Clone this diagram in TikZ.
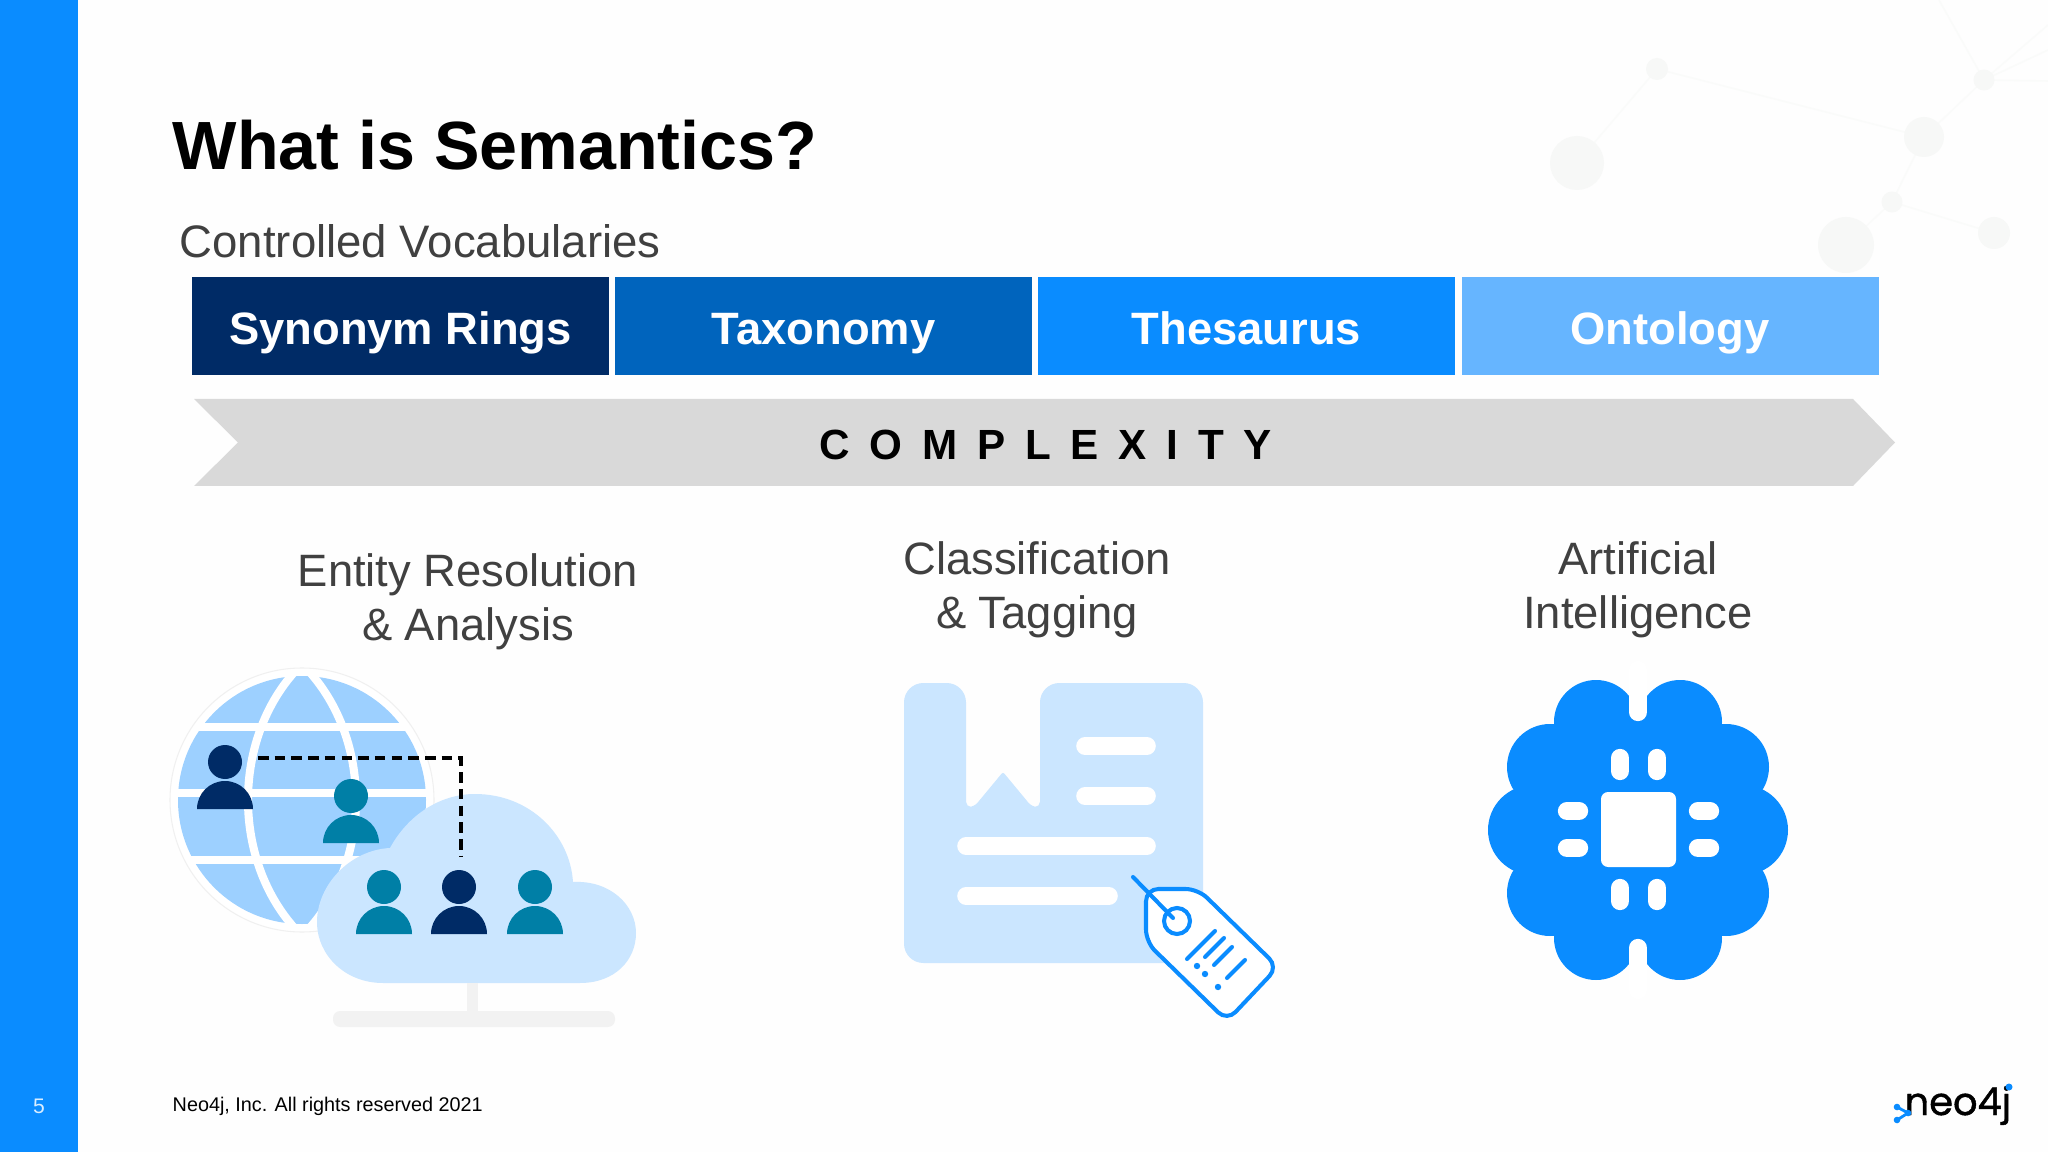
\documentclass[tikz,border=0pt]{standalone}
\usepackage{fontspec}
\usepackage{xcolor}
\setmainfont{Liberation Sans}
\newfontfamily\logofont[FakeBold=1.2]{Poppins}
\definecolor{neoblue}{HTML}{0A8CFF}
\definecolor{neonavy}{HTML}{002B66}
\definecolor{neomid}{HTML}{0064BD}
\definecolor{neosky}{HTML}{66B5FF}
\definecolor{neoteal}{HTML}{007FA6}
\definecolor{globeblue}{HTML}{9DD0FF}
\definecolor{paleblue}{HTML}{CBE6FF}
\definecolor{netgray}{HTML}{F7F8F7}
\definecolor{netline}{HTML}{FAFBFA}
\definecolor{labelgray}{HTML}{404040}
\tikzset{
    vocabbox/.style={minimum width=417*0.01cm, minimum height=98*0.01cm, inner sep=0pt,
        text height=12pt, text depth=1.2pt, text=white, font=\fontsize{12.9}{15}\selectfont\bfseries},
    uselabel/.style={align=center, text=labelgray, font=\fontsize{12.9}{15.4}\selectfont},
    netedge/.style={netline, line width=.45pt},
    pinline/.style={white, line width=5.2pt, line cap=round},
    whitebar/.style={white, line width=5pt, line cap=round},
    tagline/.style={neoblue, line width=1.15pt, line cap=round}
}
\begin{document}
\begin{tikzpicture}[x=0.01cm, y=-0.01cm]
    \useasboundingbox (0, 0) rectangle (2048, 1152);
    \fill[white!99.5!black] (0, 0) rectangle (2048, 1152);

    \foreach \a/\b/\c/\d in {1577/163/1657/69, 1657/69/1924/137, 1924/137/1984/80, 1924/137/1892/202,
        1892/202/1846/245, 1892/202/1994/233, 1984/80/1939/0, 1984/80/2048/25, 1984/80/2048/50, 1984/80/2048/81}
        \draw[netedge] (\a, \b) -- (\c, \d);
    \foreach \a/\b/\r in {1577/163/27, 1657/69/11, 1924/137/20, 1984/80/10.5, 1892/202/10.5, 1846/245/28, 1994/233/16}
        \fill[netgray] (\a, \b) circle (\r);

    \fill[neoblue] (0, 0) rectangle (78, 1152);
    \node[white!85!neoblue, font=\fontsize{6}{7}\selectfont, anchor=base] (pagenum) at (39, 1113) {5};

    \node[anchor=base west, inner sep=0pt, font=\fontsize{19.4}{23}\selectfont\bfseries] (title) at (172, 170) {What is Semantics?};
    \node[anchor=base west, inner sep=0pt, text=labelgray, font=\fontsize{12.95}{15}\selectfont] (vocab) at (179, 258) {Controlled Vocabularies};

    \node[vocabbox, fill=neonavy] (synonym) at (400.5, 326) {Synonym Rings};
    \node[vocabbox, fill=neomid] (taxonomy) at (823.5, 326) {Taxonomy};
    \node[vocabbox, fill=neoblue] (thesaurus) at (1246.5, 326) {Thesaurus};
    \node[vocabbox, fill=neosky] (ontology) at (1670, 326) {Ontology};

    \fill[gray!30] (194, 399) -- (1853, 399) -- (1895, 442.5) -- (1853, 486) -- (194, 486) -- (238, 442.5) -- cycle;
    \node[font=\fontsize{12}{15}\selectfont\bfseries] (complexity) at (1045.5, 445) {\spaceskip=.47em\relax C O M P L E X I T Y};

    \node[uselabel] (entity) at (468, 602) {Entity Resolution\\\& Analysis};
    \node[uselabel] (classify) at (1037, 590) {Classification\\\& Tagging};
    \node[uselabel] (artificial) at (1638, 590) {Artificial\\Intelligence};

    % globe
    \draw[gray!12, fill=white, line width=.3pt] (302, 800) circle (132);
    \fill[globeblue] (302, 800) circle (124);
    \begin{scope}
        \clip (302, 800) circle (125);
        \foreach \y in {727, 793, 860}
            \draw[white, line width=2.3pt] (170, \y) -- (434, \y);
        \draw[white, line width=2.3pt] (302, 664) .. controls (230, 735) and (230, 865) .. (302, 936);
        \draw[white, line width=2.3pt] (302, 664) .. controls (374, 735) and (374, 865) .. (302, 936);
    \end{scope}

    % cloud
    \fill[paleblue] (383, 983) .. controls (345, 983) and (317, 955) .. (317, 922)
        .. controls (317, 885) and (350, 850) .. (390, 848)
        .. controls (408, 815) and (440, 794) .. (475, 794)
        .. controls (530, 794) and (570, 835) .. (573, 882)
        .. controls (610, 880) and (636, 905) .. (636, 933)
        .. controls (636, 960) and (615, 983) .. (580, 983) -- cycle;
    \fill[black!5] (467, 983) rectangle (478, 1012);
    \fill[black!5, rounded corners=2pt] (333, 1011) rectangle (615, 1027);

    \foreach \a/\b/\col in {225/762/neonavy, 351/796/neoteal, 384/887/neoteal, 459/887/neonavy, 535/887/neoteal} {
        \fill[\col] (\a, \b) circle (17);
        \fill[\col] ({\a-28}, {\b+47}) arc[start angle=180, end angle=360, radius=28] -- cycle;
    }
    \coordinate (dashstart) at (258, 758);
    \coordinate (dashcorner) at (461, 758);
    \coordinate (dashend) at (461, 857);
    \draw[black, line width=1pt, dash pattern=on 3pt off 1.75pt] (dashstart) -- (dashcorner) -- (dashend);

    % document and tag
    \fill[paleblue, rounded corners=5.5pt] (904, 683) -- (966, 683)
        [rounded corners=1.5pt] -- (966, 807) -- (974, 807)
        [rounded corners=.6pt] -- (1003, 772)
        [rounded corners=1.5pt] -- (1032, 807) -- (1040, 807)
        [rounded corners=5.5pt] -- (1040, 683) -- (1203, 683) -- (1203, 963) -- (904, 963) -- cycle;
    \draw[whitebar] (1085, 746) -- (1147, 746);
    \draw[whitebar] (1085, 796) -- (1147, 796);
    \draw[whitebar] (966, 846) -- (1147, 846);
    \draw[whitebar] (966, 896) -- (1109, 896);

    \draw[neoblue, fill=white, line width=1.15pt, rounded corners=3.5pt]
        (1146, 889) -- (1198, 889) -- (1278, 967) -- (1227, 1021) -- (1146, 942) -- cycle;
    \draw[neoblue, line width=1.15pt] (1177, 921) circle (13);
    \draw[tagline] (1133, 877) -- (1173, 918);
    \draw[tagline] (1187, 959) -- (1215, 931);
    \draw[tagline] (1205, 957) -- (1224, 938);
    \draw[tagline] (1214, 965) -- (1232, 947);
    \draw[tagline] (1227, 978) -- (1245, 960);
    \foreach \a/\b in {1197/966, 1205/974, 1218/987}
        \fill[neoblue] (\a, \b) circle (3.2);

    % brain
    \fill[neoblue] (1578, 705) rectangle (1698, 955);
    \fill[neoblue] (1553, 767) rectangle (1723, 893);
    \foreach \s in {-1, 1} {
        \foreach \t in {-1, 1} {
            \fill[neoblue] ({1638+\s*42}, {830+\t*108}) circle (42);
            \fill[neoblue] ({1638+\s*88}, {830+\t*63}) circle (43);
        }
        \fill[neoblue] ({1638+\s*105}, 830) circle (45);
    }
    \draw[white, line width=5.2pt, line cap=round] (1638, 670) -- (1638, 712);
    \draw[white, line width=5.2pt, line cap=round] (1638, 948) -- (1638, 990);
    \fill[white, rounded corners=2pt] (1601, 792) rectangle (1676, 867);
    \foreach \a in {1620, 1657} {
        \draw[pinline] (\a, 758) -- (\a, 771);
        \draw[pinline] (\a, 888) -- (\a, 901);
    }
    \foreach \b in {811, 848} {
        \draw[pinline] (1567, \b) -- (1579, \b);
        \draw[pinline] (1698, \b) -- (1710, \b);
    }

    \node[anchor=base west, inner sep=0pt, font=\fontsize{5.63}{7}\selectfont] (footer) at (172, 1111) {Neo4j, Inc. All rights reserved 2021};

    % logo
    \node[anchor=base west, inner sep=0pt, font=\logofont\fontsize{10.9}{12}\selectfont] (logo) at (1904, 1115) {neo4j};
    \fill[neoblue] (2009, 1087) circle (3.5);
    \foreach \a/\b in {1897/1107, 1897/1120}
        \draw[neoblue, line width=.8pt] (\a, \b) -- (1908, 1113);
    \foreach \a/\b in {1897/1107, 1908/1113, 1897/1120}
        \fill[neoblue] (\a, \b) circle (3.3);
\end{tikzpicture}
\end{document}
